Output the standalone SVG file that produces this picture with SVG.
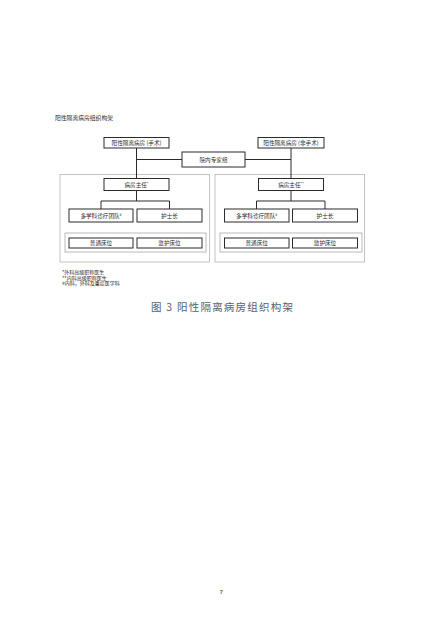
<svg xmlns="http://www.w3.org/2000/svg" width="443" height="630" viewBox="0 0 443 630">
<style>
.bg{fill:#ffffff}
.box{fill:#ffffff;stroke:#2b2b2b;stroke-width:1}
.cont{fill:none;stroke:#b5b5b5;stroke-width:0.8}
.inner{fill:none;stroke:#a8a8a8;stroke-width:0.8}
.conn{fill:none;stroke:#2b2b2b;stroke-width:1}
.t{font-family:"Noto Sans CJK SC","Liberation Sans",sans-serif;font-size:5.6px;fill:#2a2a2a;text-anchor:middle}
.note{font-family:"Noto Sans CJK SC","Liberation Sans",sans-serif;font-size:10px;fill:#2a2a2a}
.sup{font-size:3.6px}
</style>
<rect class="bg" x="0" y="0" width="443" height="630"/>
<text x="55" y="120" font-family="Noto Sans CJK SC, Liberation Sans, sans-serif" font-size="5.8" fill="#2a2a2a">阳性隔离病房组织构架</text>

<g id="containers">
<rect class="cont" x="60" y="174.5" width="149.5" height="87.5"/>
<rect class="cont" x="215" y="174.5" width="149.5" height="87.5"/>
<rect class="inner" x="65" y="233" width="141" height="19"/>
<rect class="inner" x="220" y="233" width="142" height="19"/>
</g>

<g id="connectors">
<path class="conn" d="M136.5 148 V178.5"/>
<path class="conn" d="M291 148 V178.5"/>
<path class="conn" d="M136.5 159.5 H182"/>
<path class="conn" d="M245 159.5 H291"/>
<path class="conn" d="M136.5 190.5 V201 M101 209 V201 H169.5 V209"/>
<path class="conn" d="M291 190.5 V201 M256.5 209 V201 H325 V209"/>
</g>

<g id="surgical">
<rect class="box" x="104" y="137.5" width="65" height="10.5"/>
<text class="t" x="136.5" y="144.8">阳性隔离病房 (手术)</text>
</g>
<g id="nonsurgical">
<rect class="box" x="258" y="137.5" width="66" height="10.5"/>
<text class="t" x="291" y="144.8">阳性隔离病房 (非手术)</text>
</g>
<g id="experts">
<rect class="box" x="182" y="152" width="63" height="15"/>
<text class="t" x="213.5" y="161.5">院内专家组</text>
</g>

<g id="director-left">
<rect class="box" x="104" y="178.5" width="65" height="12"/>
<text class="t" x="136.5" y="186.6">病房主任<tspan class="sup" dy="-1.5">*</tspan></text>
</g>
<g id="director-right">
<rect class="box" x="258.5" y="178.5" width="65" height="12"/>
<text class="t" x="291" y="186.6">病房主任<tspan class="sup" dy="-1.5">**</tspan></text>
</g>

<g id="mdt-left">
<rect class="box" x="69" y="209" width="64" height="13"/>
<text class="t" x="101" y="217.6">多学科诊疗团队<tspan class="sup" dy="-1.5">#</tspan></text>
</g>
<g id="nurse-left">
<rect class="box" x="137" y="209" width="65" height="13"/>
<text class="t" x="169.5" y="217.6">护士长</text>
</g>
<g id="mdt-right">
<rect class="box" x="224.5" y="209" width="64.5" height="13"/>
<text class="t" x="256.7" y="217.6">多学科诊疗团队<tspan class="sup" dy="-1.5">#</tspan></text>
</g>
<g id="nurse-right">
<rect class="box" x="292.5" y="209" width="65" height="13"/>
<text class="t" x="325" y="217.6">护士长</text>
</g>

<g id="bed-general-left">
<rect class="box" x="69" y="238" width="64" height="10"/>
<text class="t" x="101" y="245">普通床位</text>
</g>
<g id="bed-icu-left">
<rect class="box" x="137" y="238" width="65" height="10"/>
<text class="t" x="169.5" y="245">监护床位</text>
</g>
<g id="bed-general-right">
<rect class="box" x="224.5" y="238" width="64.5" height="10"/>
<text class="t" x="256.7" y="245">普通床位</text>
</g>
<g id="bed-icu-right">
<rect class="box" x="292.5" y="238" width="65" height="10"/>
<text class="t" x="325" y="245">监护床位</text>
</g>

<g id="notes" transform="translate(62 0) scale(0.5)">
<text class="note" x="0" y="548">*外科高级职称医生</text>
<text class="note" x="0" y="559">**内科高级职称医生</text>
<text class="note" x="0" y="570">#内科，外科及重症医学科</text>
</g>

<text x="151" y="311" font-family="Noto Sans CJK SC, Liberation Sans, sans-serif" font-size="10.5" fill="#4f6470" textLength="142" lengthAdjust="spacing">图 3 阳性隔离病房组织构架</text>
<text x="221.5" y="593.5" font-family="Liberation Sans, sans-serif" font-size="6" font-weight="bold" fill="#8a6a40" text-anchor="middle">7</text>
</svg>
